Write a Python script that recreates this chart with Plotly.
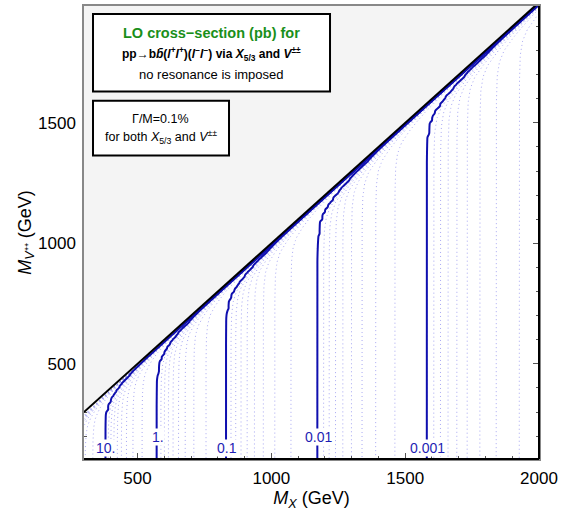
import numpy as np
import plotly.graph_objects as go

# ---- data ----
# cross-section (log10 pb) along the bottom of the plot vs M_X
mx_ref = [300, 381, 575, 833, 1176, 1584, 2000]
log_sigma_ref = [1.5, 1.0, 0.0, -1.0, -2.0, -3.0, -3.85]
# enhancement (log10) vs distance to the diagonal M_X - M_V (GeV)
gap_gev = [0, 10, 15, 20, 30, 45, 70, 100, 150, 250, 2000]
log_boost = [9.0, 0.85, 0.60, 0.45, 0.28, 0.15, 0.06, 0.025, 0.008, 0.002, 0.0]

solid_levels = [10, 1, 0.1, 0.01, 0.001]
solid_labels = ["10.", "1.", "0.1", "0.01", "0.001"]
label_mx = [381, 575, 833, 1176, 1584]
label_mv = [151, 197, 151, 197, 151]

x_ticks = [500, 1000, 1500, 2000]
y_ticks = [500, 1000, 1500]

# ---- grid table for the contour trace ----
mx_grid = np.arange(300, 2001, 10)
mv_grid = np.arange(100, 2001, 10)
X, Y = np.meshgrid(mx_grid, mv_grid)
gap = np.clip(X - Y, 0, None)
logz = np.interp(X, mx_ref, log_sigma_ref) + np.interp(gap, gap_gev, log_boost)
# map so that levels m*10^k become equally spaced (k + (m-1)/9)
k = np.floor(logz)
w = k + (10 ** (logz - k) - 1) / 9.0
w = np.round(w, 4)

fig = go.Figure()
fig.add_trace(go.Contour(
    x=mx_grid, y=mv_grid, z=w, showscale=False, hoverinfo="skip",
    contours=dict(coloring="none", start=-5 + 1 / 9, end=2.0, size=1 / 9),
    line=dict(color="rgba(120,120,235,0.65)", width=1, dash="1px,3px", smoothing=1)))
fig.add_trace(go.Contour(
    x=mx_grid, y=mv_grid, z=w, showscale=False, hoverinfo="skip",
    contours=dict(coloring="none", start=float(np.log10(min(solid_levels))),
                  end=float(np.log10(max(solid_levels))), size=1),
    line=dict(color="rgb(15,15,175)", width=2, smoothing=1)))

shapes = [
    dict(type="path", path="M 300,300 L 2000,2000 L 300,2000 Z", xref="x", yref="y",
         fillcolor="#f4f4f4", line=dict(width=0), layer="above"),
    dict(type="line", x0=300, y0=300, x1=2000, y1=2000, xref="x", yref="y",
         line=dict(color="black", width=2), layer="above"),
    dict(type="line", x0=0, y0=0, x1=1, y1=0, xref="x domain", yref="y domain",
         line=dict(color="black", width=2), layer="above"),
    dict(type="line", x0=1, y0=0, x1=1, y1=1, xref="x domain", yref="y domain",
         line=dict(color="black", width=2), layer="above"),
    dict(type="rect", x0=0.0198, x1=0.5407, y0=0.811, y1=0.9824, xref="paper", yref="paper",
         fillcolor="white", line=dict(color="black", width=2), layer="above"),
    dict(type="rect", x0=0.0198, x1=0.3187, y0=0.670, y1=0.791, xref="paper", yref="paper",
         fillcolor="white", line=dict(color="black", width=2), layer="above"),
]

font = "Liberation Sans, Arial, sans-serif"
annotations = []
for t, xm, ym in zip(solid_labels, label_mx, label_mv):
    annotations.append(dict(x=xm, y=ym, xref="x", yref="y", text=t, showarrow=False,
                            xanchor="center", yanchor="middle",
                            font=dict(family=font, size=14, color="rgb(30,30,180)"),
                            bgcolor="white", borderpad=0))
box_text = [
    (0.280, 0.9407, "<b>LO cross\u2212section (pb) for</b>", 14.5, "#1a8f1a"),
    (0.280, 0.8945, "<b>pp\u2192b<i>b\u0304</i>(<i>l</i><sup>+</sup><i>l</i><sup>+</sup>)(<i>l</i><sup>\u2212</sup><i>l</i><sup>\u2212</sup>) via <i>X</i><sub>5/3</sub> and <i>V</i><sup>\u00b1\u00b1</sup></b>", 12, "black"),
    (0.280, 0.848, "no resonance is imposed", 13, "black"),
    (0.169, 0.7495, "\u0393/M=0.1%", 12.5, "black"),
    (0.169, 0.710, "for both <i>X</i><sub>5/3</sub> and <i>V</i><sup>\u00b1\u00b1</sup>", 12.5, "black"),
]
for xp, yp, t, s, c in box_text:
    annotations.append(dict(x=xp, y=yp, xref="paper", yref="paper", text=t, showarrow=False,
                            xanchor="center", yanchor="middle",
                            font=dict(family=font, size=s, color=c)))

axis_common = dict(
    ticks="inside", ticklen=6, tickcolor="#555", tickwidth=1,
    showline=True, linecolor="#888", linewidth=1.5, mirror="ticks",
    showgrid=False, zeroline=False, ticklabelstandoff=3,
    tickfont=dict(family=font, size=17, color="black"),
    minor=dict(ticks="inside", ticklen=3, tickcolor="#555", dtick=100, showgrid=False),
)

fig.update_layout(
    width=563, height=513, margin=dict(l=84, r=24, t=4, b=54),
    paper_bgcolor="white", plot_bgcolor="white", showlegend=False,
    shapes=shapes, annotations=annotations,
    xaxis=dict(range=[300, 2000], tickvals=x_ticks, **axis_common,
               title=dict(text="<i>M</i><sub><i>X</i></sub> (GeV)",
                          font=dict(family=font, size=18, color="black"), standoff=4)),
    yaxis=dict(range=[105, 1985], tickvals=y_ticks, **axis_common,
               title=dict(text="<i>M</i><sub><i>V</i>\u207a\u207a</sub> (GeV)",
                          font=dict(family=font, size=18, color="black"), standoff=2)),
)

fig.write_html("out.html")
